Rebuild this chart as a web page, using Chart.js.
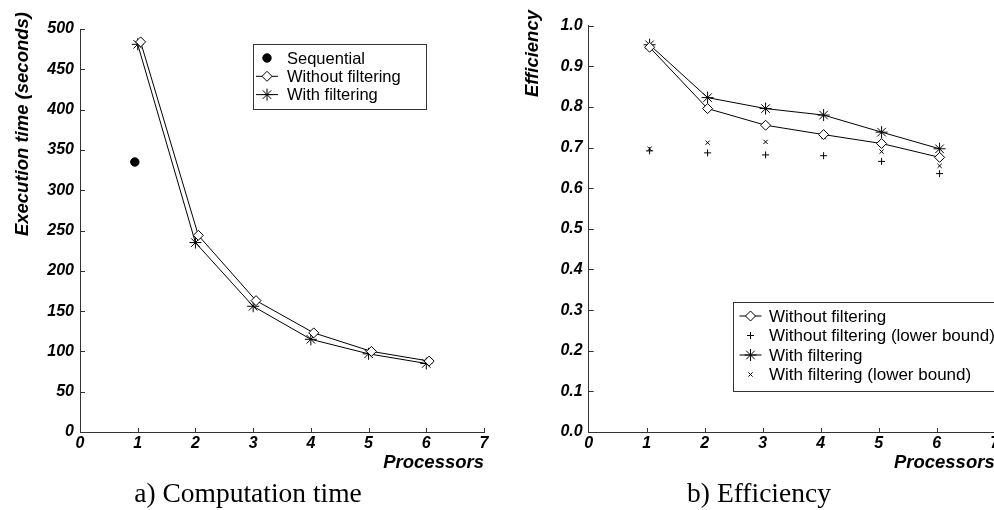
<!DOCTYPE html>
<html>
<head>
<meta charset="utf-8">
<script src="https://cdn.jsdelivr.net/npm/chart.js@4/dist/chart.umd.min.js"></script>
<style>
html, body { margin: 0; padding: 0; background: #fff; overflow: hidden; width: 994px; height: 510px; }
#timeChart { position: absolute; left: 0; top: 0; }
#effChart { position: absolute; left: 500px; top: 0; }
</style>
</head>
<body>
<canvas id="timeChart" width="500" height="510"></canvas>
<canvas id="effChart" width="560" height="510"></canvas>
<script>
// data
const processors = [1, 2, 3, 4, 5, 6];
const xTickValues = [0, 1, 2, 3, 4, 5, 6, 7];
const timeTicks = [0, 50, 100, 150, 200, 250, 300, 350, 400, 450, 500];
const effTicks = [0.0, 0.1, 0.2, 0.3, 0.4, 0.5, 0.6, 0.7, 0.8, 0.9, 1.0];

const sequentialProcs = [1];
const sequentialTime = [335];
const timeWithout = [484, 244, 163, 123, 100, 88];
const timeWith = [481, 235, 156, 115, 97, 85];

const effWithout = [0.947, 0.796, 0.755, 0.732, 0.710, 0.676];
const effWithoutLower = [0.692, 0.687, 0.682, 0.680, 0.666, 0.636];
const effWith = [0.953, 0.823, 0.796, 0.780, 0.738, 0.697];
const effWithLower = [0.697, 0.712, 0.714, 0.726, 0.690, 0.655];

const FONT = '"Liberation Sans", Arial, sans-serif';
const AXIS = "#333";

function pts(xs, ys, shift) {
    return ys.map((y, i) => ({ x: xs[i] + shift, y: y }));
}

// inward ticks, axis titles, caption and a boxed legend
const decor = {
    id: "decor",
    afterDraw(chart, args, opts) {
        const ctx = chart.ctx;
        const area = chart.chartArea;
        const xs = chart.scales.x, ys = chart.scales.y;
        ctx.save();

        ctx.strokeStyle = AXIS;
        ctx.lineWidth = 1;
        ctx.beginPath();
        xs.ticks.forEach(t => {
            if (t.value === xs.min) return;
            const px = Math.round(xs.getPixelForValue(t.value)) + 0.5;
            ctx.moveTo(px, area.bottom);
            ctx.lineTo(px, area.bottom - 4);
        });
        ys.ticks.forEach(t => {
            if (t.value === ys.min) return;
            const py = Math.round(ys.getPixelForValue(t.value)) + 0.5;
            ctx.moveTo(area.left, py);
            ctx.lineTo(area.left + 5, py);
        });
        ctx.stroke();

        ctx.fillStyle = "#000";
        ctx.font = "italic bold 18.5px " + FONT;
        ctx.textAlign = "right";
        ctx.textBaseline = "alphabetic";
        ctx.fillText(opts.xTitle, area.right, 468);

        ctx.save();
        ctx.translate(opts.yTitleX, opts.yTitleTop);
        ctx.rotate(-Math.PI / 2);
        ctx.textBaseline = "middle";
        ctx.fillText(opts.yTitle, 0, 0);
        ctx.restore();

        ctx.font = '27.5px "Liberation Serif", "Times New Roman", serif';
        ctx.textAlign = "center";
        ctx.fillText(opts.caption, opts.captionX, 502);

        const lg = opts.legend;
        ctx.strokeStyle = AXIS;
        ctx.lineWidth = 1;
        ctx.strokeRect(lg.x + 0.5, lg.y + 0.5, lg.w, lg.h);
        ctx.font = lg.fontSize + "px " + FONT;
        ctx.textAlign = "left";
        ctx.textBaseline = "middle";
        lg.items.forEach((it, i) => {
            const ds = chart.data.datasets[it.ds];
            const cy = lg.rowY + i * lg.rowGap;
            ctx.strokeStyle = "#000";
            ctx.lineWidth = 1;
            if (ds.showLine) {
                ctx.beginPath();
                ctx.moveTo(lg.markX - 11, cy);
                ctx.lineTo(lg.markX + 11, cy);
                ctx.stroke();
            }
            ctx.fillStyle = ds.pointBackgroundColor;
            Chart.helpers.drawPoint(ctx, {
                pointStyle: ds.pointStyle,
                radius: ds.pointRadius,
                borderWidth: 1,
                rotation: 0
            }, lg.markX, cy);
            ctx.fillStyle = "#000";
            ctx.fillText(ds.label, lg.textX, cy + 1);
        });
        ctx.restore();
    }
};

function baseScales(yMin, yMax, yStep, yWidth, fmt) {
    return {
        x: {
            type: "linear",
            min: 0, max: 7,
            afterBuildTicks: s => { s.ticks = xTickValues.map(v => ({ value: v })); },
            afterFit: s => { s.height = 78; },
            grid: { display: true, drawOnChartArea: false, drawTicks: false },
            border: { display: true, color: AXIS, width: 1 },
            ticks: { color: "#000", padding: 2, font: { family: FONT, size: 16, style: "italic", weight: "bold" } }
        },
        y: {
            type: "linear",
            min: yMin, max: yMax,
            afterBuildTicks: s => { s.ticks = (yMax > 2 ? timeTicks : effTicks).map(v => ({ value: v })); },
            afterFit: s => { s.width = yWidth; },
            grid: { display: true, drawOnChartArea: false, drawTicks: false },
            border: { display: true, color: AXIS, width: 1 },
            ticks: {
                color: "#000", padding: 6,
                font: { family: FONT, size: 16, style: "italic", weight: "bold" },
                callback: fmt
            }
        }
    };
}

new Chart(document.getElementById("timeChart"), {
    type: "scatter",
    data: {
        datasets: [{
            label: "Sequential",
            data: pts(sequentialProcs, sequentialTime, -0.05),
            pointStyle: "circle", pointRadius: 4.2,
            pointBackgroundColor: "#000", pointBorderColor: "#000",
            showLine: false
        }, {
            label: "Without filtering",
            data: pts(processors, timeWithout, 0.05),
            pointStyle: "rectRot", pointRadius: 5,
            pointBackgroundColor: "#fff", pointBorderColor: "#000", pointBorderWidth: 1,
            borderColor: "#000", borderWidth: 1, showLine: true
        }, {
            label: "With filtering",
            data: pts(processors, timeWith, 0),
            pointStyle: "star", pointRadius: 6,
            pointBackgroundColor: "#000", pointBorderColor: "#000", pointBorderWidth: 1,
            borderColor: "#000", borderWidth: 1, showLine: true
        }]
    },
    options: {
        responsive: false,
        animation: false,
        layout: { padding: { left: 0, top: 29, right: 16, bottom: 0 } },
        scales: baseScales(0, 500, 50, 80, v => String(v)),
        plugins: {
            legend: { display: false },
            tooltip: { enabled: false },
            decor: {
                xTitle: "Processors",
                yTitle: "Execution time (seconds)",
                yTitleX: 22.5, yTitleTop: 12,
                caption: "a) Computation time", captionX: 248,
                legend: {
                    x: 253, y: 44, w: 173, h: 65,
                    markX: 267, textX: 287, rowY: 58, rowGap: 18.3, fontSize: 16.5,
                    items: [{ ds: 0 }, { ds: 1 }, { ds: 2 }]
                }
            }
        }
    },
    plugins: [decor]
});

new Chart(document.getElementById("effChart"), {
    type: "scatter",
    data: {
        datasets: [{
            label: "Without filtering",
            data: pts(processors, effWithout, 0.05),
            pointStyle: "rectRot", pointRadius: 5,
            pointBackgroundColor: "#fff", pointBorderColor: "#000", pointBorderWidth: 1,
            borderColor: "#000", borderWidth: 1, showLine: true
        }, {
            label: "Without filtering (lower bound)",
            data: pts(processors, effWithoutLower, 0.05),
            pointStyle: "cross", pointRadius: 3.5,
            pointBackgroundColor: "#000", pointBorderColor: "#000", pointBorderWidth: 1,
            showLine: false
        }, {
            label: "With filtering",
            data: pts(processors, effWith, 0.05),
            pointStyle: "star", pointRadius: 6,
            pointBackgroundColor: "#000", pointBorderColor: "#000", pointBorderWidth: 1,
            borderColor: "#000", borderWidth: 1, showLine: true
        }, {
            label: "With filtering (lower bound)",
            data: pts(processors, effWithLower, 0.05),
            pointStyle: "crossRot", pointRadius: 3,
            pointBackgroundColor: "#000", pointBorderColor: "#000", pointBorderWidth: 1,
            showLine: false
        }]
    },
    options: {
        responsive: false,
        animation: false,
        layout: { padding: { left: 0, top: 25.7, right: 65.3, bottom: 0 } },
        scales: baseScales(0, 1, 0.1, 88.7, v => Number(v).toFixed(1)),
        plugins: {
            legend: { display: false },
            tooltip: { enabled: false },
            decor: {
                xTitle: "Processors",
                yTitle: "Efficiency",
                yTitleX: 33.3, yTitleTop: 10,
                caption: "b) Efficiency", captionX: 259,
                legend: {
                    x: 233, y: 302, w: 267, h: 89,
                    markX: 250.5, textX: 269, rowY: 316, rowGap: 19.5, fontSize: 17,
                    items: [{ ds: 0 }, { ds: 1 }, { ds: 2 }, { ds: 3 }]
                }
            }
        }
    },
    plugins: [decor]
});
</script>
</body>
</html>
